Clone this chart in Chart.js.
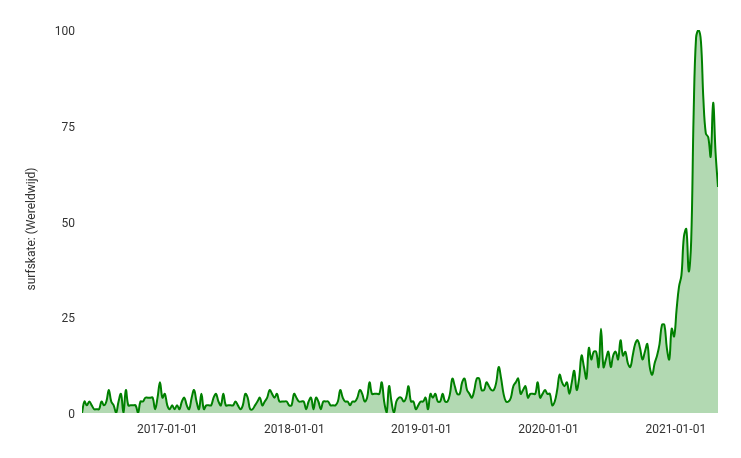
<!DOCTYPE html>
<html>
<head>
<meta charset="utf-8">
<title>surfskate</title>
<script src="https://cdn.jsdelivr.net/npm/chart.js@4/dist/chart.umd.min.js"></script>
<style>
    body { margin: 0; background: #fff; }
    #trend-chart { display: block; }
</style>
</head>
<body>
<canvas id="trend-chart" width="741" height="458"></canvas>
<script>
// weekly interest, first week starts on this date
const startDate = '2016-05-01';

const interest = [
    0, 3, 2, 3, 2, 1, 1, 1, 3, 2, 3, 6, 3, 2, 0, 3, 5, 0, 6, 2,
    2, 2, 2, 0, 3, 3, 4, 4, 4, 4, 1, 4, 8, 4, 5, 2, 1, 2, 1, 2,
    1, 3, 4, 2, 1, 4, 6, 3, 1, 5, 1, 2, 2, 2, 4, 5, 3, 2, 5, 2,
    2, 2, 2, 3, 2, 1, 2, 5, 4, 1, 1, 2, 3, 4, 2, 3, 4, 6, 5, 4,
    5, 3, 3, 3, 3, 2, 2, 5, 4, 3, 3, 3, 1, 3, 4, 1, 4, 3, 1, 3,
    3, 3, 2, 2, 2, 3, 6, 4, 3, 3, 2, 3, 3, 4, 6, 5, 3, 4, 8, 5,
    5, 5, 5, 8, 3, 0, 7, 3, 0, 3, 4, 4, 3, 4, 7, 3, 3, 1, 2, 3,
    3, 4, 1, 5, 4, 5, 3, 3, 5, 3, 3, 5, 9, 7, 5, 5, 8, 9, 6, 5,
    4, 6, 9, 9, 6, 6, 8, 7, 6, 6, 8, 12, 9, 5, 3, 3, 4, 7, 8, 9,
    5, 6, 7, 4, 5, 5, 5, 8, 4, 5, 6, 5, 5, 2, 3, 6, 10, 8, 7, 8,
    5, 8, 11, 6, 9, 15, 12, 9, 17, 14, 16, 16, 12, 22, 12, 14, 16, 12, 15, 16,
    14, 19, 15, 16, 13, 12, 15, 18, 19, 17, 14, 16, 18, 12, 10, 13, 15, 18, 23, 23,
    17, 14, 22, 20, 27, 33, 36, 46, 48, 37, 45, 78, 98, 100, 97, 82, 73, 72, 67, 81,
    68, 59
];

const xTickLabels = ['2017-01-01', '2018-01-01', '2019-01-01', '2020-01-01', '2021-01-01'];
const yTicks = [0, 25, 50, 75, 100];
const yTitle = 'surfskate: (Wereldwijd)';

const DAY = 24 * 60 * 60 * 1000;
const start = Date.parse(startDate);

function daysFromStart(dateStr) {
    return Math.round((Date.parse(dateStr) - start) / DAY);
}

const points = interest.map((v, i) => ({ x: i * 7, y: v }));
const xTickDays = xTickLabels.map(daysFromStart);

// axis title drawn by hand so it sits where the original one is
const yTitlePlugin = {
    id: 'yTitle',
    afterDraw(chart) {
        const c = chart.ctx;
        c.save();
        c.translate(32, 229);
        c.rotate(-Math.PI / 2);
        c.font = '12px Roboto';
        c.fillStyle = '#333';
        c.textAlign = 'center';
        c.textBaseline = 'middle';
        c.fillText(yTitle, 0, 0);
        c.restore();
    }
};

const ctx = document.getElementById('trend-chart').getContext('2d');

new Chart(ctx, {
    type: 'line',
    data: {
        datasets: [{
            data: points,
            borderColor: '#008000',
            backgroundColor: 'rgba(0, 128, 0, 0.3)',
            borderWidth: 2,
            fill: 'origin',
            tension: 0.4,
            pointRadius: 0,
            pointHoverRadius: 0
        }]
    },
    plugins: [yTitlePlugin],
    options: {
        responsive: false,
        animation: false,
        layout: {
            padding: { top: 30, right: 23, bottom: 0, left: 0 }
        },
        plugins: {
            legend: { display: false },
            tooltip: { enabled: false }
        },
        scales: {
            x: {
                type: 'linear',
                min: 0,
                max: (interest.length - 1) * 7,
                border: { display: false },
                grid: { display: false, drawTicks: false },
                afterBuildTicks: scale => {
                    scale.ticks = xTickDays.map(d => ({ value: d }));
                },
                afterFit: scale => {
                    scale.height = 45;
                },
                ticks: {
                    autoSkip: false,
                    maxRotation: 0,
                    padding: 10,
                    color: '#333',
                    font: { family: 'Roboto', size: 12 },
                    callback: (value) => {
                        const idx = xTickDays.indexOf(value);
                        return idx >= 0 ? xTickLabels[idx] : '';
                    }
                }
            },
            y: {
                min: 0,
                max: 100,
                border: { display: false },
                grid: { display: false, drawTicks: false },
                afterBuildTicks: scale => {
                    scale.ticks = yTicks.map(v => ({ value: v }));
                },
                afterFit: scale => {
                    scale.width = 82;
                },
                ticks: {
                    padding: 7,
                    labelOffset: 2,
                    color: '#333',
                    font: { family: 'Roboto', size: 12 }
                }
            }
        }
    }
});
</script>
</body>
</html>
